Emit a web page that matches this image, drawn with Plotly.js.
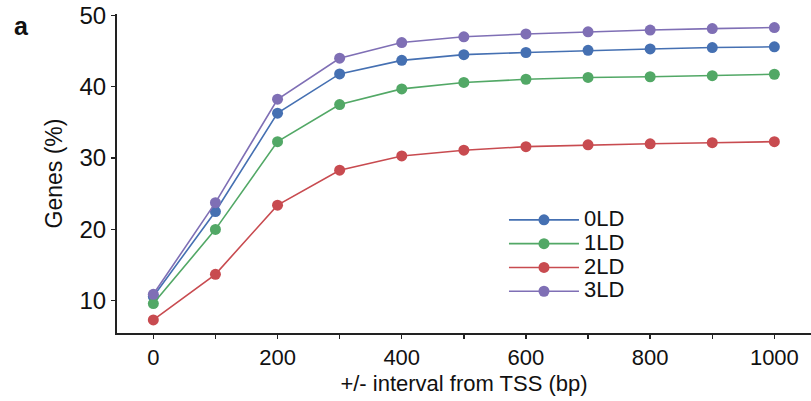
<!DOCTYPE html>
<html>
<head>
<meta charset="utf-8">
<script src="https://cdn.plot.ly/plotly-3.0.1.min.js"></script>
<style>html,body{margin:0;padding:0;background:#fff;}#chart{width:811px;height:401px;}</style>
</head>
<body>
<div id="chart"></div>
<script>
const intervals = [0, 100, 200, 300, 400, 500, 600, 700, 800, 900, 1000];
const seriesNames = ['0LD', '1LD', '2LD', '3LD'];
const ld0 = [10.6, 22.5, 36.3, 41.8, 43.7, 44.5, 44.8, 45.1, 45.3, 45.5, 45.6];
const ld1 = [9.6, 20.0, 32.3, 37.5, 39.7, 40.6, 41.05, 41.3, 41.4, 41.55, 41.75];
const ld2 = [7.3, 13.7, 23.4, 28.3, 30.3, 31.1, 31.6, 31.85, 32.0, 32.15, 32.3];
const ld3 = [10.9, 23.75, 38.25, 44.0, 46.2, 47.0, 47.4, 47.7, 47.95, 48.15, 48.3];
const xTickVals = [0, 100, 200, 300, 400, 500, 600, 700, 800, 900, 1000];
const xTickText = ['0', '', '200', '', '400', '', '600', '', '800', '', '1000'];
const yTickVals = [10, 20, 30, 40, 50];

const colors = ['#4570b2', '#52a866', '#c84b50', '#7f6fb5'];
const allSeries = [ld0, ld1, ld2, ld3];
const FONT = 'Liberation Sans, Arial, Helvetica, sans-serif';

const traces = allSeries.map((ys, i) => ({
  x: intervals, y: ys, type: 'scatter', mode: 'lines+markers',
  name: '<span style="font-size:22px">' + seriesNames[i] + '</span>',
  line: {color: colors[i], width: 1.6},
  marker: {color: colors[i], size: 11}
}));

const layout = {
  width: 811, height: 401,
  margin: {l: 117, r: 0, t: 14, b: 68},
  paper_bgcolor: '#fff', plot_bgcolor: '#fff',
  font: {family: FONT, color: '#111', size: 22},
  showlegend: true,
  legend: {x: 0.5576, y: 0.4077, xanchor: 'left', yanchor: 'top', bgcolor: 'rgba(0,0,0,0)',
    font: {family: FONT, size: 16, color: '#111'}, tracegroupgap: 0, itemwidth: 70},
  xaxis: {
    range: [-58.5, 1059], tickvals: xTickVals, ticktext: xTickText,
    showgrid: false, zeroline: false, showline: true, linecolor: '#222', linewidth: 2,
    ticks: 'outside', ticklen: 4, tickwidth: 1.5, tickcolor: '#222',
    tickfont: {family: FONT, size: 22, color: '#111'},
    title: {text: '+/- interval from TSS (bp)', font: {family: FONT, size: 22, color: '#111'}, standoff: 6}
  },
  yaxis: {
    range: [5.47, 50.2], tickvals: yTickVals,
    showgrid: false, zeroline: false, showline: true, linecolor: '#222', linewidth: 2,
    ticks: 'outside', ticklen: 4, tickwidth: 1.5, tickcolor: '#222',
    tickfont: {family: FONT, size: 24, color: '#111'},
    title: {text: 'Genes (%)', font: {family: FONT, size: 23, color: '#111'}, standoff: 10}
  },
  annotations: [{
    text: '<b>a</b>', xref: 'paper', yref: 'paper', x: -0.151, y: 1.0125,
    xanchor: 'left', yanchor: 'top', showarrow: false,
    font: {family: FONT, size: 25, color: '#111'}
  }]
};
Plotly.newPlot('chart', traces, layout, {displayModeBar: false, staticPlot: true});
</script>
</body>
</html>
